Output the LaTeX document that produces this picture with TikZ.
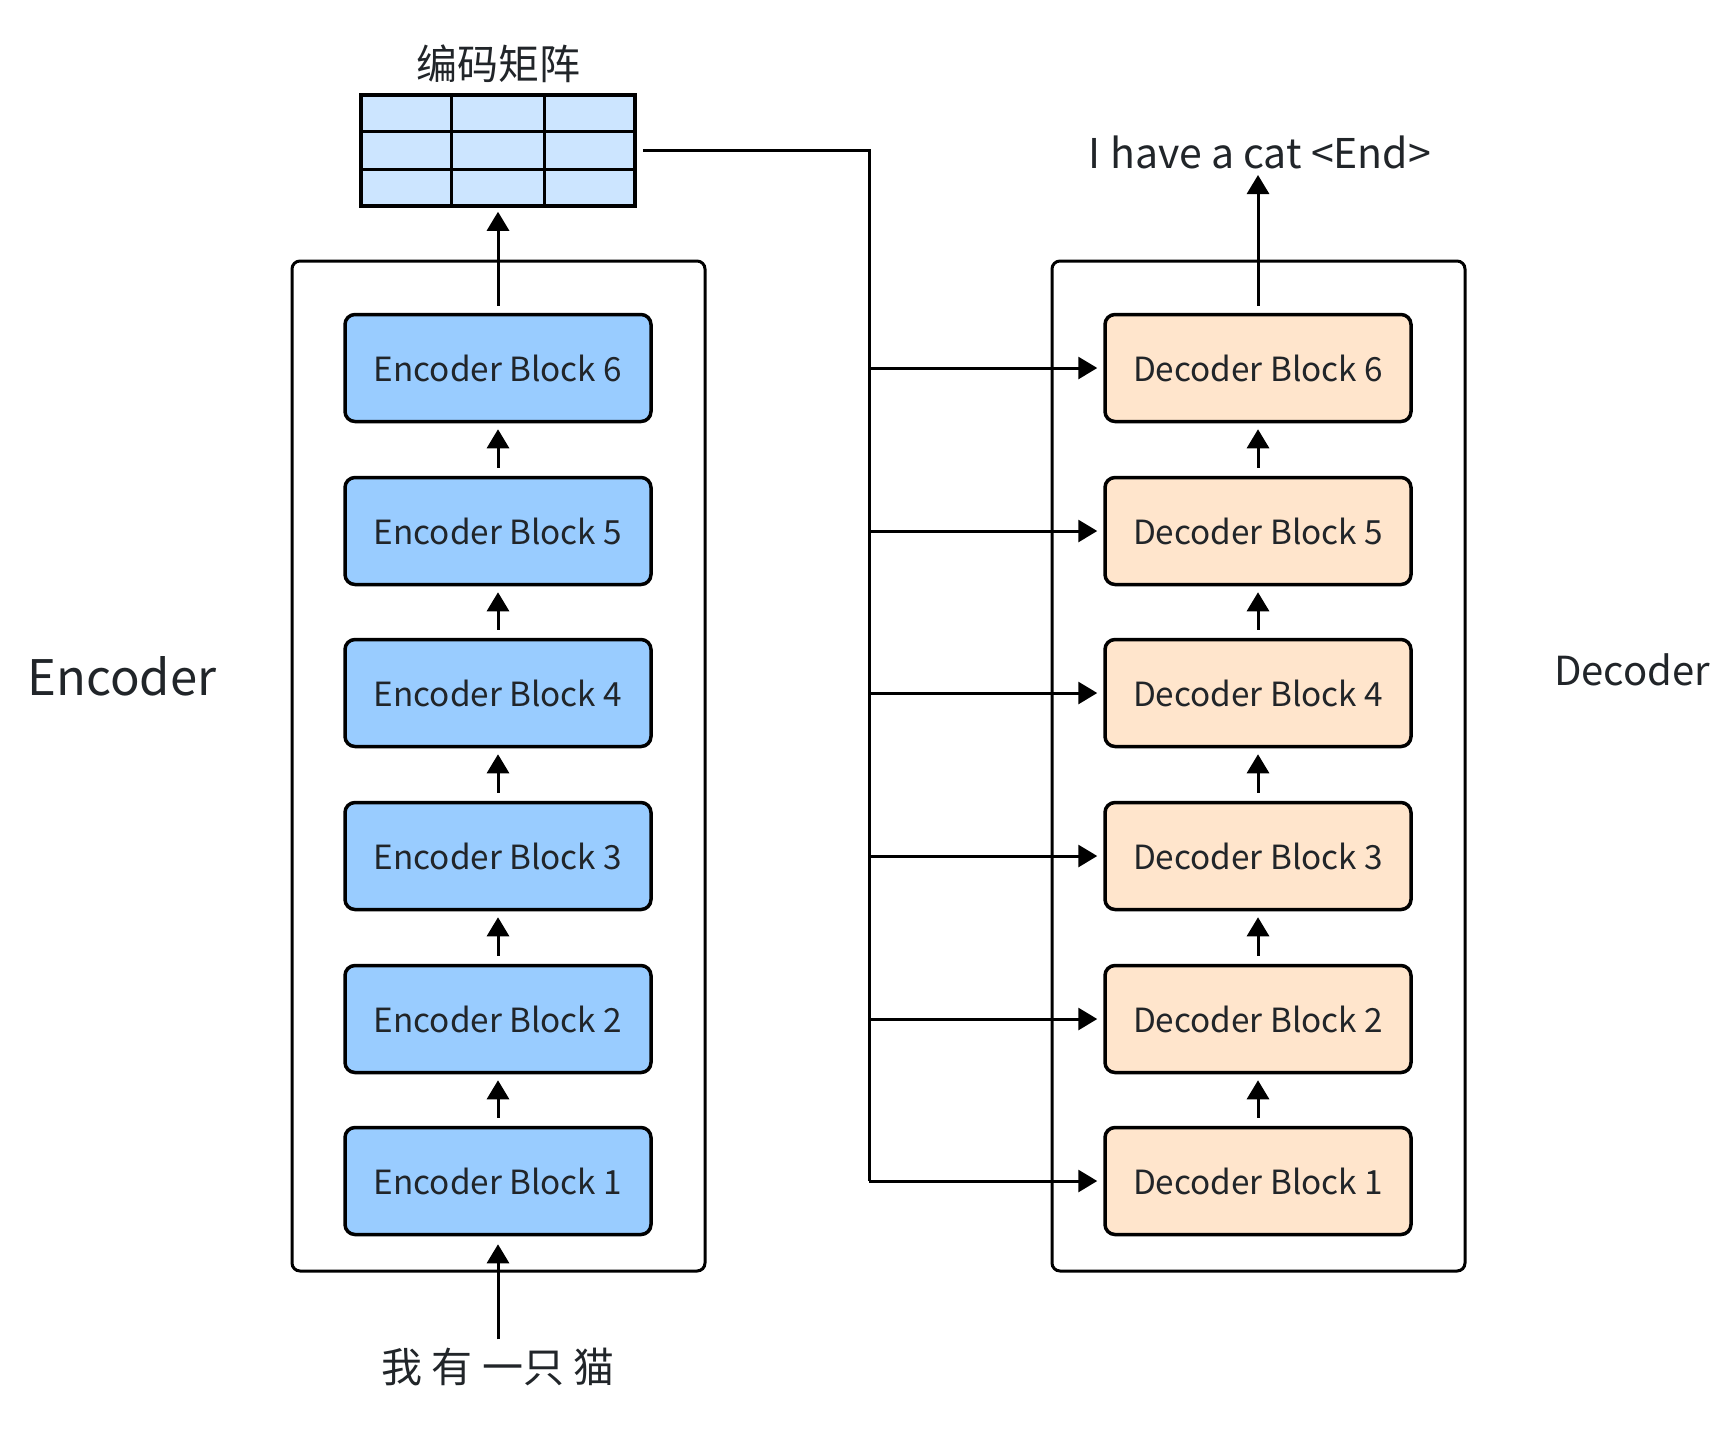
\documentclass[tikz,border=0pt]{standalone}
\usepackage{fontspec}
\setmainfont{Noto Sans CJK SC}
\usetikzlibrary{arrows.meta,calc}
\definecolor{encfill}{RGB}{153,204,255}
\definecolor{decfill}{RGB}{255,229,204}
\definecolor{matfill}{RGB}{204,229,255}
\definecolor{txt}{RGB}{33,37,41}
\tikzset{
  block/.style={draw=black, line width=3.5pt, rounded corners=10pt, minimum width=306pt, minimum height=107pt, inner sep=0pt, font=\fontsize{33.3}{40}\selectfont, text=txt},
  encblock/.style={block, fill=encfill},
  decblock/.style={block, fill=decfill},
  outerbox/.style={draw=black, line width=3pt, rounded corners=8pt, minimum width=413pt, minimum height=1010pt, inner sep=0pt},
  arr/.style={-{Triangle[width=22pt,length=19pt]}, line width=3pt},
  plain/.style={line width=3pt},
  lbl/.style={text=txt, inner sep=0pt}
}
\begin{document}
\begin{tikzpicture}[x=1pt,y=-1pt]
\useasboundingbox[fill=white] (0,0) rectangle (1732,1444);

% outer boxes
\node[outerbox] (encbox) at (498.5,766) {};
\node[outerbox] (decbox) at (1258.5,766) {};

% encoder blocks
\node[encblock] (e6) at (498,368) {Encoder Block 6};
\node[encblock] (e5) at (498,531) {Encoder Block 5};
\node[encblock] (e4) at (498,693) {Encoder Block 4};
\node[encblock] (e3) at (498,856) {Encoder Block 3};
\node[encblock] (e2) at (498,1019) {Encoder Block 2};
\node[encblock] (e1) at (498,1181) {Encoder Block 1};

% decoder blocks
\node[decblock] (d6) at (1258,368) {Decoder Block 6};
\node[decblock] (d5) at (1258,531) {Decoder Block 5};
\node[decblock] (d4) at (1258,693) {Decoder Block 4};
\node[decblock] (d3) at (1258,856) {Decoder Block 3};
\node[decblock] (d2) at (1258,1019) {Decoder Block 2};
\node[decblock] (d1) at (1258,1181) {Decoder Block 1};

% matrix
\node[draw=black, line width=3.5pt, fill=matfill, minimum width=274pt, minimum height=111pt, inner sep=0pt] (mat) at (498,150.5) {};
\draw[plain] ($(mat.north west)!1/3!(mat.north east)$) -- ($(mat.south west)!1/3!(mat.south east)$);
\draw[plain] ($(mat.north west)!2/3!(mat.north east)$) -- ($(mat.south west)!2/3!(mat.south east)$);
\draw[plain] ($(mat.north west)!1/3!(mat.south west)$) -- ($(mat.north east)!1/3!(mat.south east)$);
\draw[plain] ($(mat.north west)!2/3!(mat.south west)$) -- ($(mat.north east)!2/3!(mat.south east)$);

% labels
\node[lbl, anchor=base, font=\fontsize{41}{48}\selectfont] (title) at (498,79) {编码矩阵};
\node[lbl, anchor=base, font=\fontsize{41}{48}\selectfont] (out) at (1260,168) {I have a cat <End>};
\node[lbl, anchor=base, font=\fontsize{41}{48}\selectfont] (input) at (498,1382) {我 有 一只 猫};
\node[lbl, anchor=base, font=\fontsize{49}{58}\selectfont] (enclbl) at (122,695) {Encoder};
\node[lbl, anchor=base, font=\fontsize{40}{48}\selectfont] (declbl) at (1632,685) {Decoder};

% encoder arrows
\draw[arr, shorten <=7pt, shorten >=4pt] (e6.north) -- (mat.south);
\foreach \a/\b in {e1/e2,e2/e3,e3/e4,e4/e5,e5/e6,d1/d2,d2/d3,d3/d4,d4/d5,d5/d6}{
  \draw[arr, shorten <=8pt, shorten >=6pt] (\a.north) -- (\b.south);
}
\draw[arr, shorten <=8pt, shorten >=8pt] (input.north) -- (e1.south);

% decoder output
\draw[arr, shorten <=7pt] (d6.north) -- ($(d6.north |- out.base)+(0,7)$);

% bus from matrix to decoder blocks
\coordinate (bus) at (869,0);
\draw[plain] ([xshift=6pt]mat.east) -- (mat.east -| bus) -- (d1.west -| bus);
\foreach \d in {d1,d2,d3,d4,d5,d6}{
  \draw[arr, shorten >=6pt] (\d.west -| bus) -- (\d.west);
}
\end{tikzpicture}
\end{document}
